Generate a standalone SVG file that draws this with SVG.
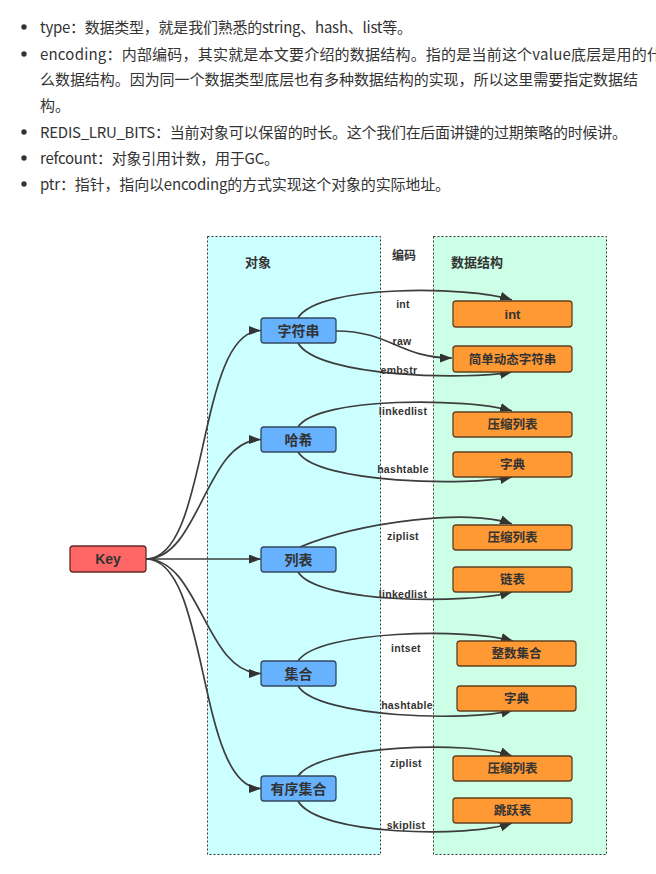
<svg xmlns="http://www.w3.org/2000/svg" width="656" height="874" viewBox="0 0 656 874">
<style>
.para{font-family:"Noto Sans CJK SC","Liberation Sans",sans-serif;font-size:15px;fill:#333}
.bul{fill:#333}
.box{stroke:#333;stroke-width:1;stroke-dasharray:2,2}
.hdr{font-family:"Liberation Sans","Noto Sans CJK SC",sans-serif;font-size:13px;font-weight:bold;fill:#333;text-anchor:middle}
.blue rect{fill:#66b2ff;stroke:#34495e;stroke-width:1.3}
.orange rect{fill:#ff9933;stroke:#604020;stroke-width:1.3}
.key rect{fill:#ff6666;stroke:#662929;stroke-width:1.3}
.nt{font-family:"Liberation Sans","Noto Sans CJK SC",sans-serif;font-weight:bold;fill:#333;text-anchor:middle}
.bt{font-size:14px}
.ot{font-size:12.5px}
.edge{fill:none;stroke:#3d3d3d;stroke-width:1.7}
.lbl{font-family:"Liberation Sans","Noto Sans CJK SC",sans-serif;font-size:10.5px;font-weight:bold;fill:#333;text-anchor:middle;letter-spacing:0.3px}
</style>
<defs>
<marker id="arr" markerUnits="userSpaceOnUse" markerWidth="13" markerHeight="10" refX="12" refY="4.5" orient="auto">
<path d="M0,0 L12,4.5 L0,9 z" fill="#333"/>
</marker>
</defs>
<rect width="656" height="874" fill="#fff"/>
<g id="text">
<circle class="bul" cx="24" cy="27" r="2.7"/>
<text class="para" x="40" y="32.5" textLength="372" lengthAdjust="spacing">type：数据类型，就是我们熟悉的string、hash、list等。</text>
<circle class="bul" cx="24" cy="54" r="2.7"/>
<text class="para" x="40" y="59.5" textLength="622" lengthAdjust="spacing">encoding：内部编码，其实就是本文要介绍的数据结构。指的是当前这个value底层是用的什</text>
<text class="para" x="40" y="84.5" textLength="598" lengthAdjust="spacing">么数据结构。因为同一个数据类型底层也有多种数据结构的实现，所以这里需要指定数据结</text>
<text class="para" x="40" y="110.5">构。</text>
<circle class="bul" cx="24" cy="132" r="2.7"/>
<text class="para" x="40" y="137.5" textLength="587" lengthAdjust="spacing">REDIS_LRU_BITS：当前对象可以保留的时长。这个我们在后面讲键的过期策略的时候讲。</text>
<circle class="bul" cx="24" cy="158" r="2.7"/>
<text class="para" x="40" y="163.5" textLength="239" lengthAdjust="spacing">refcount：对象引用计数，用于GC。</text>
<circle class="bul" cx="24" cy="184" r="2.7"/>
<text class="para" x="40" y="189.5" textLength="410" lengthAdjust="spacing">ptr：指针，指向以encoding的方式实现这个对象的实际地址。</text>
</g>
<g id="regions">
<rect class="box" x="207.5" y="236.5" width="173" height="618" fill="#ccffff"/>
<rect class="box" x="433.5" y="236.5" width="173" height="618" fill="#ccffe6"/>
<text class="hdr" x="258" y="267">对象</text>
<text class="hdr" x="404" y="260" style="font-size:12px">编码</text>
<text class="hdr" x="477" y="267">数据结构</text>
</g>
<g id="connectors">
<path class="edge" marker-end="url(#arr)" d="M146,559 C210,559 196,330.5 261,330.5"/>
<path class="edge" marker-end="url(#arr)" d="M146,559 C200,559 205,439.5 261,439.5"/>
<path class="edge" marker-end="url(#arr)" d="M146,559 L261,559"/>
<path class="edge" marker-end="url(#arr)" d="M146,559 C200,559 205,673.5 261,673.5"/>
<path class="edge" marker-end="url(#arr)" d="M146,559 C210,559 196,788.5 261,788.5"/>
<path class="edge" marker-end="url(#arr)" d="M298,318 C318,284 470,286 512,300"/>
<path class="edge" marker-end="url(#arr)" d="M336,331 C390,331 400,358 452,358"/>
<path class="edge" marker-end="url(#arr)" d="M298,343 C318,378 470,380 512,372"/>
<path class="edge" marker-end="url(#arr)" d="M298,427 C318,396 470,398 512,411"/>
<path class="edge" marker-end="url(#arr)" d="M298,452 C318,484 470,486 512,477"/>
<path class="edge" marker-end="url(#arr)" d="M300,547 C360,522 470,508 512,524"/>
<path class="edge" marker-end="url(#arr)" d="M298,572 C318,604 470,604 512,592"/>
<path class="edge" marker-end="url(#arr)" d="M298,661 C318,630 470,628 513,641"/>
<path class="edge" marker-end="url(#arr)" d="M298,686 C318,718 470,722 513,710"/>
<path class="edge" marker-end="url(#arr)" d="M298,776 C320,745 470,740 512,756"/>
<path class="edge" marker-end="url(#arr)" d="M298,801 C318,836 470,838 512,823"/>
</g>
<g id="edge-labels">
<text class="lbl" x="403" y="307.5">int</text>
<text class="lbl" x="402" y="344.5">raw</text>
<text class="lbl" x="399" y="373.5">embstr</text>
<text class="lbl" x="403" y="414.5">linkedlist</text>
<text class="lbl" x="403" y="472.5">hashtable</text>
<text class="lbl" x="403" y="539.5">ziplist</text>
<text class="lbl" x="403" y="597.5">linkedlist</text>
<text class="lbl" x="406" y="651.5">intset</text>
<text class="lbl" x="407" y="708.5">hashtable</text>
<text class="lbl" x="406" y="766.5">ziplist</text>
<text class="lbl" x="406" y="828.5">skiplist</text>
</g>
<g id="key" class="key"><rect x="70" y="546" width="76" height="26" rx="3"/><text class="nt" x="108" y="564" style="font-size:14px">Key</text></g>
<g id="obj-string" class="blue"><rect x="261" y="318" width="75" height="25" rx="3"/><text class="nt bt" x="298.5" y="335.5">字符串</text></g>
<g id="obj-hash" class="blue"><rect x="261" y="427" width="75" height="25" rx="3"/><text class="nt bt" x="298.5" y="444.5">哈希</text></g>
<g id="obj-list" class="blue"><rect x="261" y="547" width="75" height="25" rx="3"/><text class="nt bt" x="298.5" y="564.5">列表</text></g>
<g id="obj-set" class="blue"><rect x="261" y="661" width="75" height="25" rx="3"/><text class="nt bt" x="298.5" y="678.5">集合</text></g>
<g id="obj-zset" class="blue"><rect x="261" y="776" width="75" height="25" rx="3"/><text class="nt bt" x="298.5" y="793.5">有序集合</text></g>
<g id="ds-int" class="orange"><rect x="453" y="301" width="119" height="26" rx="3"/><text class="nt" x="512.5" y="318.5" style="font-size:13px">int</text></g>
<g id="ds-sds" class="orange"><rect x="453" y="346" width="119" height="26" rx="3"/><text class="nt ot" x="512.5" y="363.5">简单动态字符串</text></g>
<g id="ds-ziplist1" class="orange"><rect x="453" y="412" width="119" height="25" rx="3"/><text class="nt ot" x="512.5" y="429">压缩列表</text></g>
<g id="ds-dict1" class="orange"><rect x="453" y="452" width="119" height="25" rx="3"/><text class="nt ot" x="512.5" y="469">字典</text></g>
<g id="ds-ziplist2" class="orange"><rect x="453" y="525" width="119" height="25" rx="3"/><text class="nt ot" x="512.5" y="542">压缩列表</text></g>
<g id="ds-linkedlist" class="orange"><rect x="453" y="567" width="119" height="25" rx="3"/><text class="nt ot" x="512.5" y="584">链表</text></g>
<g id="ds-intset" class="orange"><rect x="457" y="641" width="119" height="25" rx="3"/><text class="nt ot" x="516.5" y="658">整数集合</text></g>
<g id="ds-dict2" class="orange"><rect x="457" y="686" width="119" height="25" rx="3"/><text class="nt ot" x="516.5" y="703">字典</text></g>
<g id="ds-ziplist3" class="orange"><rect x="453" y="756" width="119" height="25" rx="3"/><text class="nt ot" x="512.5" y="773">压缩列表</text></g>
<g id="ds-skiplist" class="orange"><rect x="453" y="798" width="119" height="25" rx="3"/><text class="nt ot" x="512.5" y="815">跳跃表</text></g>
</svg>
